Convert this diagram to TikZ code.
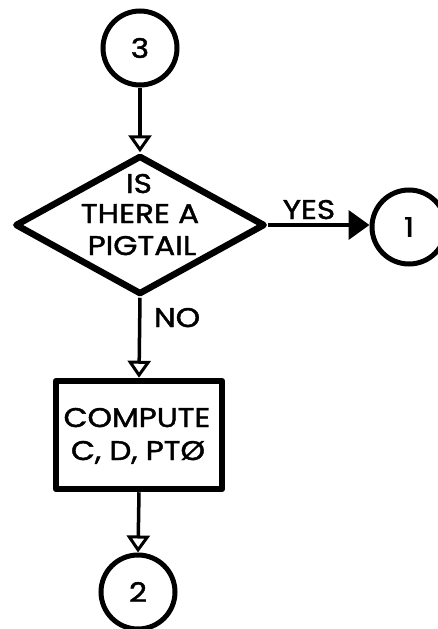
\documentclass[tikz,border=0pt]{standalone}
\usepackage{fontspec}
\setmainfont{Poppins}
\newfontfamily\lblfont[FakeBold=1.6, FakeStretch=1.15]{Poppins}
\usetikzlibrary{shapes.geometric,arrows.meta}
\tikzset{
  conn/.style={circle, draw, line width=5pt, minimum size=74pt, inner sep=0pt},
  dec/.style={diamond, draw, line width=6.5pt, line join=round, minimum width=250pt, minimum height=139pt, inner sep=0pt},
  proc/.style={rectangle, draw, line width=6.5pt, line join=round, minimum width=166pt, minimum height=108pt, inner sep=0pt},
  lbl/.style={font=\lblfont\fontsize{27}{32}\selectfont, inner sep=0pt},
  txt/.style={lbl, anchor=base},
  flow/.style={line width=3.5pt, -{Triangle[open, length=17pt, width=23pt, line width=3pt]}},
  yesflow/.style={line width=4pt, -{Triangle[length=21pt, width=29pt]}}
}
\begin{document}
\begin{tikzpicture}[x=1pt, y=-1pt]
\useasboundingbox (0,0) rectangle (438,629);
\node[conn, lbl] (c3) at (140,48) {3};
\node[dec] (d) at (140,225) {};
\node[txt] (dt1) at (139,193) {IS};
\node[txt] (dt2) at (140,223) {THERE A};
\node[txt] (dt3) at (142,255) {PIGTAIL};
\node[conn, lbl] (c1) at (409,227) {1};
\node[proc] (box) at (139,435) {};
\node[txt] (bt1) at (137,427) {COMPUTE};
\node[txt] (bt2) at (138,460) {C, D, PTØ};
\node[conn, lbl] (c2) at (138,592) {2};
\draw[flow] (c3) -- (d.north);
\draw[yesflow] (d.east) -- (d.east -| c1.west);
\draw[flow] (d.south) -- (box.north);
\draw[flow] (box.south) -- (c2.north);
\node[txt] (yes) at (309,219) {YES};
\node[txt] (no) at (177,327) {NO};
\end{tikzpicture}
\end{document}
